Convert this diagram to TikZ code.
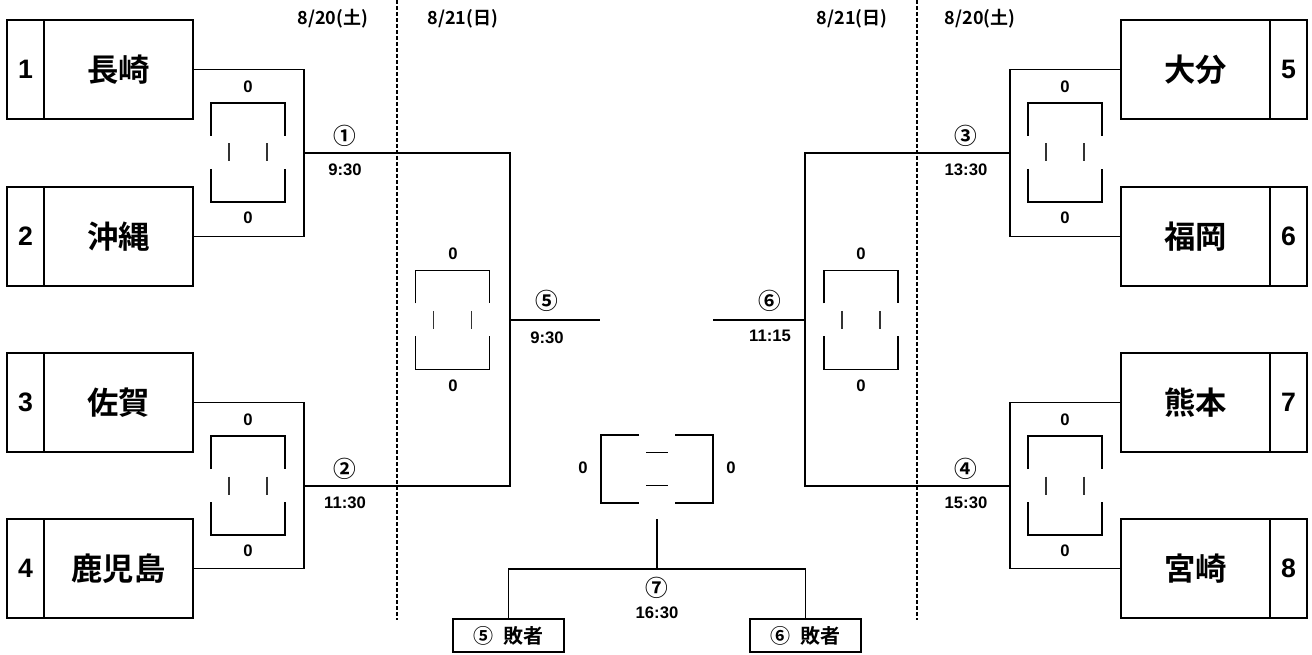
\documentclass[tikz,border=0pt]{standalone}
\usepackage{fontspec}
\setmainfont{Liberation Sans}
\newfontfamily\cjk{Noto Sans CJK JP}[BoldFont={Noto Sans CJK JP Bold}]
\usetikzlibrary{positioning}

\begin{document}
\begin{tikzpicture}[
    x=0.75pt, y=-0.75pt,
    line width=1.4pt,
    team/.style={rectangle, draw, outer sep=0pt, inner sep=0pt, minimum width=0.75pt*149, minimum height=0.75pt*99, font=\cjk\bfseries\fontsize{23.5}{23.5}\selectfont},
    seed/.style={rectangle, draw, outer sep=0pt, inner sep=0pt, minimum width=0.75pt*37, minimum height=0.75pt*99, font=\bfseries\fontsize{20}{20}\selectfont},
    score/.style={font=\bfseries\fontsize{12.5}{12.5}\selectfont, inner sep=1pt},
    mnum/.style={font=\cjk\bfseries\fontsize{17}{17}\selectfont, inner sep=1pt},
    time/.style={font=\bfseries\fontsize{12.5}{12.5}\selectfont, inner sep=1pt},
    day/.style={font=\cjk\bfseries\fontsize{13.5}{13.5}\selectfont, inner sep=1pt},
    loser/.style={rectangle, draw, outer sep=0pt, inner sep=0pt, minimum width=0.75pt*111, minimum height=0.75pt*33, font=\cjk\bfseries\fontsize{15}{15}\selectfont},
    vscore/.pic={
        \draw (-37,-16.5) -- (-37,-49.5) -- (37,-49.5) -- (37,-16.5);
        \draw (-37,16.5) -- (-37,49.5) -- (37,49.5) -- (37,16.5);
        \draw[line width=1pt, black!80] (-19,-9) -- (-19,9) (19,-9) -- (19,9);
    },
    hscore/.pic={
        \draw (-18,-34) -- (-56,-34) -- (-56,34) -- (-18,34);
        \draw (18,-34) -- (56,-34) -- (56,34) -- (18,34);
        \draw[line width=1.4pt] (-11,-16.5) -- (11,-16.5) (-11,16.5) -- (11,16.5);
    }
]
    \useasboundingbox (0,0) rectangle (1312,655);

    % days
    \draw[line width=0.9pt, dash pattern=on 3pt off 1.5pt] (397,0) -- (397,620);
    \draw[line width=0.9pt, dash pattern=on 3pt off 1.5pt] (917,0) -- (917,620);
    \node[day] (d1) at (333,19) {8/20(土)};
    \node[day] (d2) at (463,19) {8/21(日)};
    \node[day] (d3) at (852,19) {8/21(日)};
    \node[day] (d4) at (980,19) {8/20(土)};

    % teams, left
    \node[team] (t1) at (118.5,69.5) {長崎};
    \node[seed, left=0pt of t1] (s1) {1};
    \node[team] (t2) at (118.5,236.5) {沖縄};
    \node[seed, left=0pt of t2] (s2) {2};
    \node[team] (t3) at (118.5,402.5) {佐賀};
    \node[seed, left=0pt of t3] (s3) {3};
    \node[team] (t4) at (118.5,568.5) {鹿児島};
    \node[seed, left=0pt of t4] (s4) {4};

    % teams, right
    \node[team] (t5) at (1195.5,69.5) {大分};
    \node[seed, right=0pt of t5] (s5) {5};
    \node[team] (t6) at (1195.5,236.5) {福岡};
    \node[seed, right=0pt of t6] (s6) {6};
    \node[team] (t7) at (1195.5,402.5) {熊本};
    \node[seed, right=0pt of t7] (s7) {7};
    \node[team] (t8) at (1195.5,568.5) {宮崎};
    \node[seed, right=0pt of t8] (s8) {8};

    % match points
    \coordinate (m1) at (304,153);
    \coordinate (m2) at (304,486);
    \coordinate (m3) at (1010,153);
    \coordinate (m4) at (1010,486);
    \coordinate (q5) at (510,320);
    \coordinate (q6) at (805,320);
    \coordinate (w5) at (600,320);
    \coordinate (w6) at (713,320);

    \draw (t1.east) -| (m1) |- (t2.east);
    \draw (t3.east) -| (m2) |- (t4.east);
    \draw (m1) -| (q5) |- (m2);
    \draw (q5) -- (w5);
    \draw (t5.west) -| (m3) |- (t6.west);
    \draw (t7.west) -| (m4) |- (t8.west);
    \draw (m3) -| (q6) |- (m4);
    \draw (q6) -- (w6);

    % score boxes
    \pic at (248,152.5) {vscore};
    \node[score] (a1) at (248,87) {0};
    \node[score] (b1) at (248,218) {0};
    \pic at (248,485.5) {vscore};
    \node[score] (a2) at (248,420) {0};
    \node[score] (b2) at (248,551) {0};
    \pic at (1065,152.5) {vscore};
    \node[score] (a3) at (1065,87) {0};
    \node[score] (b3) at (1065,218) {0};
    \pic at (1065,485.5) {vscore};
    \node[score] (a4) at (1065,420) {0};
    \node[score] (b4) at (1065,551) {0};
    \pic at (452.5,320) {vscore};
    \node[score] (a5) at (453,254) {0};
    \node[score] (b5) at (453,386) {0};
    \pic at (861,320) {vscore};
    \node[score] (a6) at (861,254) {0};
    \node[score] (b6) at (861,386) {0};

    % match labels
    \node[mnum] (n1) at (345,136) {①};
    \node[time] (h1) at (345,170) {9:30};
    \node[mnum] (n2) at (345,469) {②};
    \node[time] (h2) at (345,503) {11:30};
    \node[mnum] (n3) at (966,136) {③};
    \node[time] (h3) at (966,170) {13:30};
    \node[mnum] (n4) at (966,469) {④};
    \node[time] (h4) at (966,503) {15:30};
    \node[mnum] (n5) at (547,301) {⑤};
    \node[time] (h5) at (547,338) {9:30};
    \node[mnum] (n6) at (770,301) {⑥};
    \node[time] (h6) at (770,336) {11:15};

    % third place
    \pic at (657,469) {hscore};
    \node[score] (a7) at (583,468) {0};
    \node[score] (b7s) at (731,468) {0};
    \coordinate (f7) at (657,519);
    \coordinate (b7) at (657,569);
    \node[loser] (l5) at (508.5,635.5) {⑤\hspace{0.5em}敗者};
    \node[loser] (l6) at (805.5,635.5) {⑥\hspace{0.5em}敗者};
    \draw (f7) -- (b7);
    \draw (l5.north) |- (b7) -| (l6.north);
    \node[mnum] (n7) at (657,588) {⑦};
    \node[time] (h7) at (657,613) {16:30};
\end{tikzpicture}
\end{document}
